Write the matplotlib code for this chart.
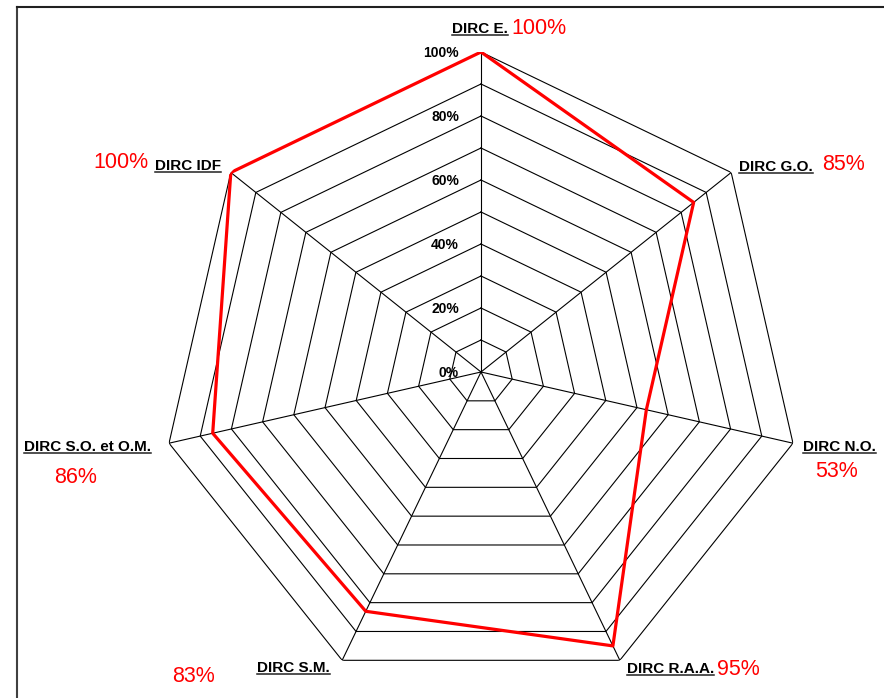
import numpy as np
import matplotlib
matplotlib.use('Agg')
import matplotlib.pyplot as plt

plt.rcParams['font.family'] = ['Liberation Sans', 'DejaVu Sans']

# donnees
categories = ['DIRC E.', 'DIRC G.O.', 'DIRC N.O.', 'DIRC R.A.A.',
              'DIRC S.M.', 'DIRC S.O. et O.M.', 'DIRC IDF']
values = [100, 85, 53, 95, 83, 86, 100]
value_labels = ['100%', '85%', '53%', '95%', '83%', '86%', '100%']
rings = [10, 20, 30, 40, 50, 60, 70, 80, 90, 100]
tick_values = [0, 20, 40, 60, 80, 100]
tick_labels = ['0%', '20%', '40%', '60%', '80%', '100%']

# position des textes (pixels: x gauche, ligne de base)
name_pos = [(452, 33), (739, 171), (803, 451), (627, 673),
            (257, 672), (24, 451), (155, 170)]
val_pos = [(511, 34), (822, 170), (815, 477), (717, 675),
           (172, 682), (54, 483), (93, 168)]

W, H = 884, 698
fig = plt.figure(figsize=(W / 100, H / 100), dpi=100)

# fond pour textes et cadre
bg = fig.add_axes([0, 0, 1, 1])
bg.set_xlim(0, W)
bg.set_ylim(H, 0)
bg.axis('off')
bg.plot([16.5, 16.5], [6.5, H], color='#404040', lw=1.5)
bg.plot([16.5, W], [6.5, 6.5], color='#202020', lw=1.5)

# radar
cx, cy, R = 481, 372, 320
ax = fig.add_axes([(cx - R) / W, (H - cy - R) / H, 2 * R / W, 2 * R / H],
                  projection='polar')
ax.set_theta_zero_location('N')
ax.set_theta_direction(-1)
ax.set_ylim(0, 100)
ax.set_axis_off()

n = len(categories)
theta = np.arange(n) * 2 * np.pi / n
theta_c = np.append(theta, theta[0])

for r in rings:
    ax.plot(theta_c, [r] * (n + 1), color='black', lw=0.8)
for t in theta:
    ax.plot([t, t], [0, 100], color='black', lw=0.8)

vals_c = values + values[:1]
ax.plot(theta_c, vals_c, color='#ff0000', lw=2.3, zorder=5)

for v, lab in zip(tick_values, tick_labels):
    ax.annotate(lab, xy=(0, v), xytext=(-22, -5), textcoords='offset pixels',
                ha='right', va='baseline', fontsize=10, fontweight='bold')

name_texts = []
for name, (x, y) in zip(categories, name_pos):
    t = bg.text(x, y, name, ha='left', va='baseline', fontsize=11,
                fontweight='bold', color='black')
    name_texts.append((t, y))
for lab, (x, y) in zip(value_labels, val_pos):
    bg.text(x, y, lab, ha='left', va='baseline', fontsize=15.5, color='#ff0000')

# soulignement
fig.canvas.draw()
inv = bg.transData.inverted()
for t, y in name_texts:
    bb = t.get_window_extent()
    x0 = inv.transform((bb.x0, 0))[0]
    x1 = inv.transform((bb.x1, 0))[0]
    bg.plot([x0, x1], [y + 2, y + 2], color='#202020', lw=1.1)

fig.savefig('out.png', dpi=100)
